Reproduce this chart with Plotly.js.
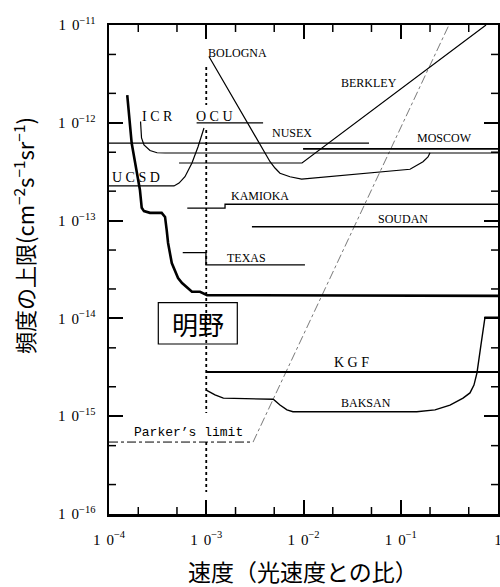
<!DOCTYPE html>
<html><head><meta charset="utf-8">
<script src="https://cdn.plot.ly/plotly-3.0.1.min.js"></script>
<style>html,body{margin:0;padding:0;background:#fff}</style>
</head><body><div id="chart" style="width:500px;height:587px"></div>
<script>
// ---- data ----
const akenoX = [1.54e-4, 1.71e-4, 2.08e-4, 2.17e-4, 2.29e-4, 2.64e-4, 3.48e-4, 3.77e-4, 3.92e-4, 4.05e-4, 4.42e-4, 4.78e-4, 5.13e-4, 5.64e-4, 6.34e-4, 7.13e-4, 8.63e-4, 1.02e-3, 1];
const akenoY = [1.92e-12, 6.2e-13, 2.06e-13, 1.35e-13, 1.25e-13, 1.2e-13, 1.2e-13, 1.09e-13, 8.0e-14, 5.9e-14, 3.68e-14, 2.98e-14, 2.59e-14, 2.30e-14, 2.05e-14, 1.87e-14, 1.87e-14, 1.73e-14, 1.7e-14];
const icrX = [2.11e-4, 2.16e-4, 2.29e-4, 2.64e-4, 3.12e-4, 3.77e-4, 1];
const icrY = [1.03e-12, 7.0e-13, 5.93e-13, 5.21e-13, 4.94e-13, 4.91e-13, 4.91e-13];
const ucsdX = [1e-4, 4.66e-4, 5.25e-4, 6.04e-4, 7.13e-4, 8.22e-4, 9.48e-4];
const ucsdY = [2.26e-13, 2.26e-13, 2.42e-13, 2.81e-13, 3.88e-13, 5.66e-13, 8.85e-13];
const ocuX = [7.96e-4, 3.84e-3];
const ocuY = [1e-12, 1e-12];
const nusexX = [1e-4, 4.72e-2];
const nusexY = [6.2e-13, 6.2e-13];
const moscowX = [9.9e-3, 1];
const moscowY = [5.4e-13, 5.4e-13];
const berkleyX = [5.25e-4, 9.66e-3, 0.753];
const berkleyY = [3.88e-13, 3.88e-13, 1e-11];
const bolognaX = [1.07e-3, 4.53e-3, 5.09e-3, 5.73e-3, 7.26e-3, 9.57e-3, 0.1245, 0.1694, 0.1906, 0.2];
const bolognaY = [4.74e-12, 4.0e-13, 3.45e-13, 3.05e-13, 2.81e-13, 2.66e-13, 3.35e-13, 4.0e-13, 4.47e-13, 4.94e-13];
const kamiokaX = [6.38e-4, 1.56e-3, 1.56e-3, 1];
const kamiokaY = [1.34e-13, 1.34e-13, 1.47e-13, 1.47e-13];
const soudanX = [2.95e-3, 1];
const soudanY = [8.67e-14, 8.67e-14];
const texasX = [5.73e-4, 9.93e-4, 9.93e-4, 1.035e-2];
const texasY = [4.7e-14, 4.7e-14, 3.52e-14, 3.52e-14];
const kgfX = [1e-3, 1];
const kgfY = [2.83e-15, 2.83e-15];
const baksanX = [1.0e-3, 1.23e-3, 1.50e-3, 4.89e-3, 5.73e-3, 6.76e-3, 7.79e-3, 0.146, 0.225, 0.321, 0.437, 0.515, 0.566, 0.608, 0.668, 0.735, 1];
const baksanY = [1.85e-15, 1.65e-15, 1.53e-15, 1.49e-15, 1.30e-15, 1.16e-15, 1.11e-15, 1.11e-15, 1.16e-15, 1.30e-15, 1.53e-15, 1.73e-15, 2.08e-15, 2.77e-15, 5.35e-15, 1.03e-14, 1.03e-14];
const parkerX = [1e-4, 3.03e-3, 0.313];
const parkerY = [5.44e-16, 5.44e-16, 1e-11];
const vlineX = [1e-3, 1e-3, null, 1e-3, 1e-3, null, 1e-3, 1e-3];
const vlineY = [3.72e-12, 1.52e-12, null, 8.43e-13, 1.08e-15, null, 5.44e-16, 1.68e-16];

const xTickVals = [1e-4, 1e-3, 1e-2, 1e-1, 1];
const xTickText = ['1\u2009\u20090<sup>−4</sup>', '1\u2009\u20090<sup>−3</sup>', '1\u2009\u20090<sup>−2</sup>', '1\u2009\u20090<sup>−1</sup>', '1'];
const yTickVals = [1e-16, 1e-15, 1e-14, 1e-13, 1e-12, 1e-11];
const yTickText = ['1\u2009\u20090<sup>−16</sup>', '1\u2009\u20090<sup>−15</sup>', '1\u2009\u20090<sup>−14</sup>', '1\u2009\u20090<sup>−13</sup>', '1\u2009\u20090<sup>−12</sup>', '1\u2009\u20090<sup>−11</sup>'];
const xMinor = [2e-4, 5e-4, 2e-3, 5e-3, 2e-2, 5e-2, 2e-1, 5e-1];
const yMinor = [2e-16, 5e-16, 2e-15, 5e-15, 2e-14, 5e-14, 2e-13, 5e-13, 2e-12, 5e-12];

// ---- layout helpers (pixel -> paper) ----
const L = 109, R = 498, T = 25, B = 514;
const px = v => (v - L) / (R - L);
const py = v => (B - v) / (B - T);

function line(x, y, w, dash, color) {
  return {x: x, y: y, type: 'scatter', mode: 'lines', hoverinfo: 'skip', showlegend: false,
          line: {color: color || '#000', width: w, dash: dash || 'solid'}, connectgaps: false};
}
const traces = [
  line(vlineX, vlineY, 1.8, 'dot'),
  line(parkerX.slice(0, 2), parkerY.slice(0, 2), 1, 'dashdot'),
  line(parkerX.slice(1), parkerY.slice(1), 0.8, 'dashdot', '#555'),
  line(nusexX, nusexY, 1.1),
  line(icrX, icrY, 1.2),
  line(ucsdX, ucsdY, 1.2),
  line(ocuX, ocuY, 1.2),
  line(moscowX, moscowY, 1.8),
  line(berkleyX, berkleyY, 1.2),
  line(bolognaX, bolognaY, 1.2),
  line(kamiokaX, kamiokaY, 1.3),
  line(soudanX, soudanY, 1.5),
  line(texasX, texasY, 1.3),
  line(kgfX, kgfY, 1.8),
  line(baksanX, baksanY, 1.4),
  line(akenoX, akenoY, 2.6)
];

const serif = 'Liberation Serif, Times New Roman, serif';
function lab(text, x, y, size, family) {
  return {text: text, xref: 'paper', yref: 'paper', x: px(x), y: py(y), xanchor: 'left', yanchor: 'middle',
          showarrow: false, borderpad: 0, font: {family: family || serif, size: size, color: '#000'}};
}
const annotations = [
  lab('BOLOGNA', 207, 52.5, 12),
  lab('BERKLEY', 340, 83, 12),
  lab('NUSEX', 271, 133, 12),
  lab('MOSCOW', 416, 138, 12),
  lab('KAMIOKA', 230, 196, 12),
  lab('SOUDAN', 377, 219, 12),
  lab('TEXAS', 226, 258, 12),
  lab('K G F', 333, 362, 14),
  lab('BAKSAN', 340, 403, 12),
  lab('I C R', 141, 117, 14),
  lab('O C U', 195, 117, 14),
  lab('U C S D', 111, 178, 14),
  lab('Parker’s limit', 133, 432, 13, 'Liberation Mono, Courier New, monospace'),
  {text: '明野', xref: 'paper', yref: 'paper', x: px(198), y: py(323.5), xanchor: 'center', yanchor: 'middle',
   showarrow: false, font: {family: 'Noto Sans CJK JP', size: 26, color: '#000'}},
  {text: '速度（光速度との比）', xref: 'paper', yref: 'paper', x: px(303), y: py(571), xanchor: 'center', yanchor: 'middle',
   showarrow: false, font: {family: 'Noto Sans CJK JP', size: 23, color: '#000'}},
  {text: '頻度の上限(cm<sup>−2</sup>s<sup>−1</sup>sr<sup>−1</sup>)', xref: 'paper', yref: 'paper', x: px(23), y: py(236),
   xanchor: 'center', yanchor: 'middle', textangle: -90, showarrow: false,
   font: {family: 'Noto Sans CJK JP', size: 22, color: '#000'}}
];

// minor ticks drawn on all four sides through the axis scales
const shapes = [{type: 'rect', xref: 'paper', yref: 'paper', x0: px(158.3), x1: px(237.3), y0: py(344), y1: py(302.7),
                 line: {color: '#000', width: 1.2}}];
const mtl = 7;
xMinor.forEach(v => {
  shapes.push({type: 'line', xref: 'x', yref: 'paper', x0: v, x1: v, y0: 0, y1: mtl / (B - T), line: {color: '#000', width: 1.5}});
  shapes.push({type: 'line', xref: 'x', yref: 'paper', x0: v, x1: v, y0: 1, y1: 1 - mtl / (B - T), line: {color: '#000', width: 1.5}});
});
yMinor.forEach(v => {
  shapes.push({type: 'line', xref: 'paper', yref: 'y', y0: v, y1: v, x0: 0, x1: mtl / (R - L), line: {color: '#000', width: 1.5}});
  shapes.push({type: 'line', xref: 'paper', yref: 'y', y0: v, y1: v, x0: 1, x1: 1 - mtl / (R - L), line: {color: '#000', width: 1.5}});
});

const axisCommon = {
  type: 'log', showgrid: false, zeroline: false, showline: true, linecolor: '#000', linewidth: 2.5,
  mirror: 'allticks', ticks: 'inside', ticklen: 14, tickwidth: 2, tickcolor: '#000',
  tickmode: 'array', ticklabeloverflow: 'allow', tickfont: {family: serif, size: 15, color: '#000'}
};
const layout = {
  width: 500, height: 587, paper_bgcolor: '#fff', plot_bgcolor: '#fff',
  margin: {l: L, r: 500 - R, t: T, b: 587 - B},
  xaxis: Object.assign({}, axisCommon, {range: [-4, 0], tickvals: xTickVals, ticktext: xTickText, ticklabelstandoff: 10}),
  yaxis: Object.assign({}, axisCommon, {range: [-16, -11], tickvals: yTickVals, ticktext: yTickText, ticklabelstandoff: 8}),
  shapes: shapes,
  annotations: annotations
};
Plotly.newPlot('chart', traces, layout, {staticPlot: true, displayModeBar: false});
</script>
</body></html>
